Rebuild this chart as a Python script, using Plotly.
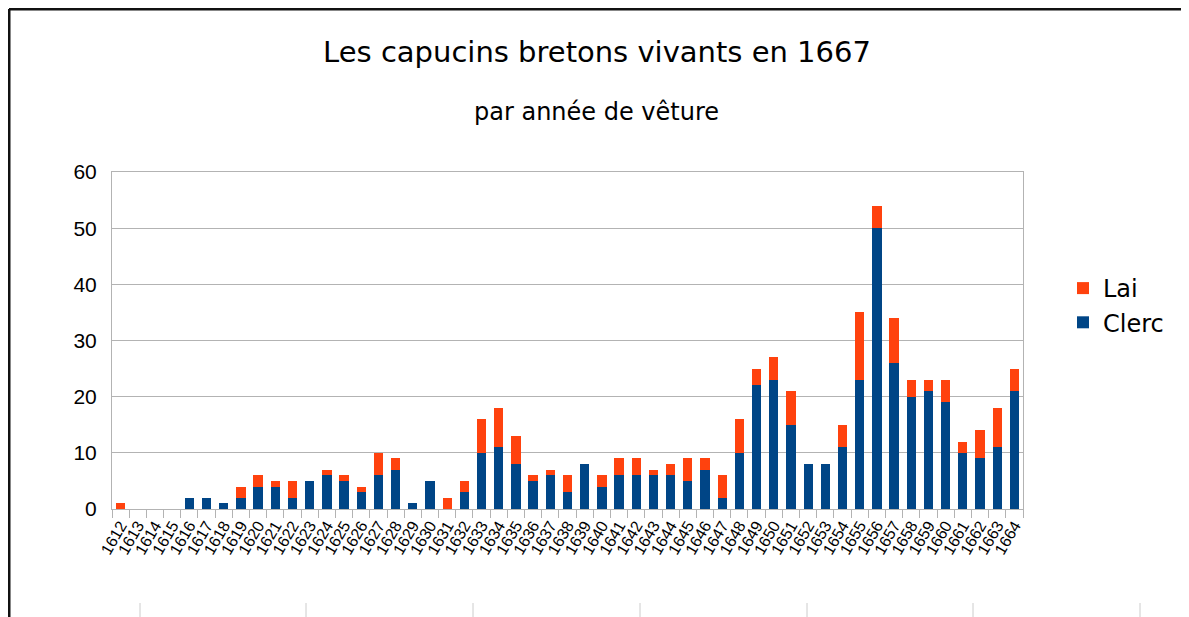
import plotly.graph_objects as go

years = [str(y) for y in range(1612, 1665)]
clerc = [0, 0, 0, 0, 2, 2, 1, 2, 4, 4, 2, 5, 6, 5, 3, 6, 7, 1, 5, 0, 3, 10, 11, 8, 5, 6, 3, 8,
         4, 6, 6, 6, 6, 5, 7, 2, 10, 22, 23, 15, 8, 8, 11, 23, 50, 26, 20, 21, 19, 10, 9, 11, 21]
lai = [1, 0, 0, 0, 0, 0, 0, 2, 2, 1, 3, 0, 1, 1, 1, 4, 2, 0, 0, 2, 2, 6, 7, 5, 1, 1, 3, 0,
       2, 3, 3, 1, 2, 4, 2, 4, 6, 3, 4, 6, 0, 0, 4, 12, 4, 8, 3, 2, 4, 2, 5, 7, 4]

W, H = 1189, 617
OFF = 8  # page body margin offset
PL, PR, PT, PB = 112, 1023, 172, 509  # plot area in page pixels
FONT = "Liberation Sans, Arial, sans-serif"
WFONT = "DejaVu Sans, Verdana, sans-serif"
GRID = "#b3b3b3"


def fx(px):
    return (px - PL) / (PR - PL)


def fy(py):
    return (PB - py) / (PB - PT)


fig = go.Figure()
fig.add_trace(go.Bar(x=years, y=clerc, name="Clerc", marker=dict(color="#004586", line=dict(width=0))))
fig.add_trace(go.Bar(x=years, y=lai, name="Lai", marker=dict(color="#ff420e", line=dict(width=0))))

fig.update_layout(
    width=W, height=H,
    barmode="stack", bargap=0.46,
    paper_bgcolor="white", plot_bgcolor="white",
    margin=dict(l=PL - OFF, r=W - (PR - OFF), t=PT - OFF, b=H - (PB - OFF)),
    font=dict(family=FONT, color="#000000"),
    title=dict(text="Les capucins bretons vivants en 1667", x=(597 - OFF) / W, xanchor="center",
               xref="container", yref="container",
               y=1 - (52 - OFF) / H, yanchor="middle", font=dict(size=29, family=WFONT)),
    legend=dict(traceorder="reversed", xref="container", yref="container",
                x=(1063 - OFF) / W, xanchor="left", y=1 - (266 - OFF) / H, yanchor="top",
                font=dict(size=24, family=WFONT),
                itemwidth=30, tracegroupgap=4, bgcolor="rgba(0,0,0,0)"),
    showlegend=True,
)

fig.update_xaxes(type="category", showgrid=False, showline=True, linecolor=GRID, linewidth=1,
                 mirror=True, ticks="outside", tickson="boundaries", ticklen=8, tickcolor=GRID,
                 tickmode="array", tickvals=years, ticktext=years,
                 tickangle=-60, tickfont=dict(size=16, family=FONT, color="#000"))
fig.update_yaxes(range=[0, 60], dtick=10, showgrid=True, gridcolor=GRID, gridwidth=1,
                 showline=True, linecolor=GRID, mirror=True, ticks="", zeroline=False,
                 tickfont=dict(size=21, family=FONT, color="#000"), ticklabelstandoff=10)

fig.add_annotation(text="par année de vêture", xref="paper", yref="paper",
                   x=fx(596), y=fy(112), xanchor="center", yanchor="middle", showarrow=False,
                   font=dict(size=24, family=WFONT, color="#000"))

# screenshot frame (black border at top and left)
fig.add_shape(type="line", xref="paper", yref="paper",
              x0=fx(9), x1=fx(1200), y0=fy(9), y1=fy(9),
              line=dict(color="#111", width=3))
fig.add_shape(type="line", xref="paper", yref="paper",
              x0=fx(9), x1=fx(9), y0=fy(9), y1=fy(630),
              line=dict(color="#111", width=3))
# faint spreadsheet lines at the bottom
for xp in [140, 306, 473, 640, 807, 973, 1140]:
    fig.add_shape(type="line", xref="paper", yref="paper", x0=fx(xp), x1=fx(xp),
                  y0=fy(603), y1=fy(630), line=dict(color="#cccccc", width=1))

fig.write_html("out.html")
